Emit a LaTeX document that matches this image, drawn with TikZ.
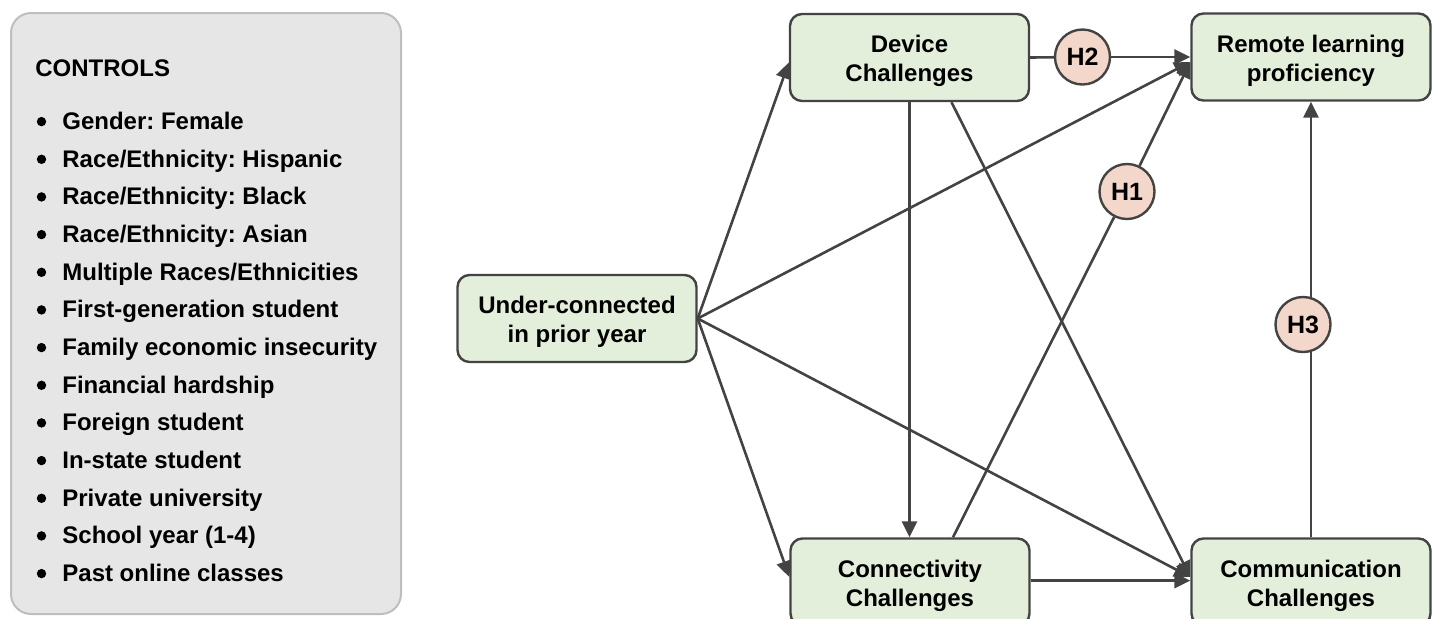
\documentclass[tikz,border=0pt]{standalone}
\usepackage{fontspec}
\setmainfont{Liberation Sans}
\usetikzlibrary{arrows.meta}
\definecolor{nodefill}{HTML}{E3EFDA}
\definecolor{edgecol}{HTML}{434343}
\definecolor{ctrlfill}{HTML}{E6E6E6}
\definecolor{ctrlborder}{HTML}{BEBEBE}
\definecolor{hfill}{HTML}{F4D7CB}
\pgfdeclarelayer{bg}
\pgfsetlayers{bg,main}
\newcommand{\topstrut}{\rule{0pt}{12.2pt}}
\frenchspacing
\begin{document}
\frenchspacing
\begin{tikzpicture}[x=0.5pt,y=-0.5pt,
  box/.style={draw=edgecol, line width=1.2pt, fill=nodefill, rounded corners=6pt,
    minimum width=119.5pt, minimum height=43.5pt, inner sep=0pt, align=center,
    font=\bfseries\fontsize{12}{14.5}\selectfont},
  hyp/.style={circle, draw=edgecol, line width=1.2pt, fill=hfill, minimum size=27.5pt,
    inner sep=0pt, font=\bfseries\fontsize{12.5}{14}\selectfont},
  conn/.style={draw=edgecol, line width=1.3pt, -{Triangle[length=8pt,width=7.5pt]}},
  plainedge/.style={draw=edgecol, line width=1.3pt},
  ctrlbox/.style={draw=ctrlborder, line width=1pt, fill=ctrlfill, rounded corners=10pt,
    minimum width=195pt, minimum height=300.5pt, inner sep=0pt},
  item/.style={anchor=base west, inner sep=0pt, font=\bfseries\fontsize{12}{14}\selectfont},
  bul/.style={circle, fill=black, minimum size=4.7pt, inner sep=0pt},
]
\useasboundingbox (0,0) rectangle (1432,618);

% Controls panel
\node[ctrlbox] (ctrl) at (206,313.5) {};
\node[item] (ctitle) at (35,76.6) {CONTROLS};
\node[item] (t1) at (62,129.6) {Gender: Female};
\node[item] (t2) at (62,167.3) {Race/Ethnicity: Hispanic};
\node[item] (t3) at (62,204.9) {Race/Ethnicity: Black};
\node[item] (t4) at (62,242.6) {Race/Ethnicity: Asian};
\node[item] (t5) at (62,280.3) {Multiple Races/Ethnicities};
\node[item] (t6) at (62,317.9) {First-generation student};
\node[item] (t7) at (62,355.6) {Family economic insecurity};
\node[item] (t8) at (62,393.3) {Financial hardship};
\node[item] (t9) at (62,430.9) {Foreign student};
\node[item] (t10) at (62,468.6) {In-state student};
\node[item] (t11) at (62,506.3) {Private university};
\node[item] (t12) at (62,543.9) {School year (1-4)};
\node[item] (t13) at (62,581.6) {Past online classes};
\node[bul] (b1) at (41.5,121.6) {};
\node[bul] (b2) at (41.5,159.3) {};
\node[bul] (b3) at (41.5,196.9) {};
\node[bul] (b4) at (41.5,234.6) {};
\node[bul] (b5) at (41.5,272.3) {};
\node[bul] (b6) at (41.5,309.9) {};
\node[bul] (b7) at (41.5,347.6) {};
\node[bul] (b8) at (41.5,385.3) {};
\node[bul] (b9) at (41.5,422.9) {};
\node[bul] (b10) at (41.5,460.6) {};
\node[bul] (b11) at (41.5,498.3) {};
\node[bul] (b12) at (41.5,535.9) {};
\node[bul] (b13) at (41.5,573.6) {};

% Main nodes
\node[box] (dev) at (909.5,57.5) {\topstrut Device\\Challenges};
\node[box] (rem) at (1311,57) {\topstrut Remote learning\\proficiency};
\node[box] (und) at (577,318.5) {\topstrut Under-connected\\in prior year};
\node[box] (con) at (910,582) {\topstrut Connectivity\\Challenges};
\node[box] (com) at (1311,582) {\topstrut Communication\\Challenges};

% Hypothesis circles
\node[hyp] (h2) at (1082.5,57) {H2};
\node[hyp] (h1) at (1127,191.5) {H1};
\node[hyp] (h3) at (1303,324.5) {H3};

\begin{pgfonlayer}{bg}
% from Under-connected
\draw[conn] (und.east) -- ([yshift=-2.5pt]dev.west);
\draw[conn] (und.east) -- ([yshift=-2.5pt]rem.west);
\draw[conn] (und.east) -- ([yshift=2.5pt]com.west);
\draw[conn] (und.east) -- ([yshift=2.5pt]con.west);
% from Device
\draw[conn] (dev.south) -- (dev.south |- con.north);
\draw[conn] ([xshift=21pt]dev.south) -- ([yshift=2.5pt]com.west);
\draw[plainedge] (dev.east) -- (h2);
\draw[conn] (h2) -- (rem.west);
% from Connectivity
\draw[plainedge] ([xshift=21.5pt]con.north) -- (h1);
\draw[conn] (h1) -- ([yshift=-2.5pt]rem.west);
\draw[conn] ([yshift=0.7pt]con.east) -- ([yshift=0.7pt]com.west);
% from Communication
\draw[plainedge] (com.north) -- (com.north |- h3);
\draw[conn] (com.north |- h3) -- (rem.south);
\end{pgfonlayer}
\end{tikzpicture}
\end{document}
